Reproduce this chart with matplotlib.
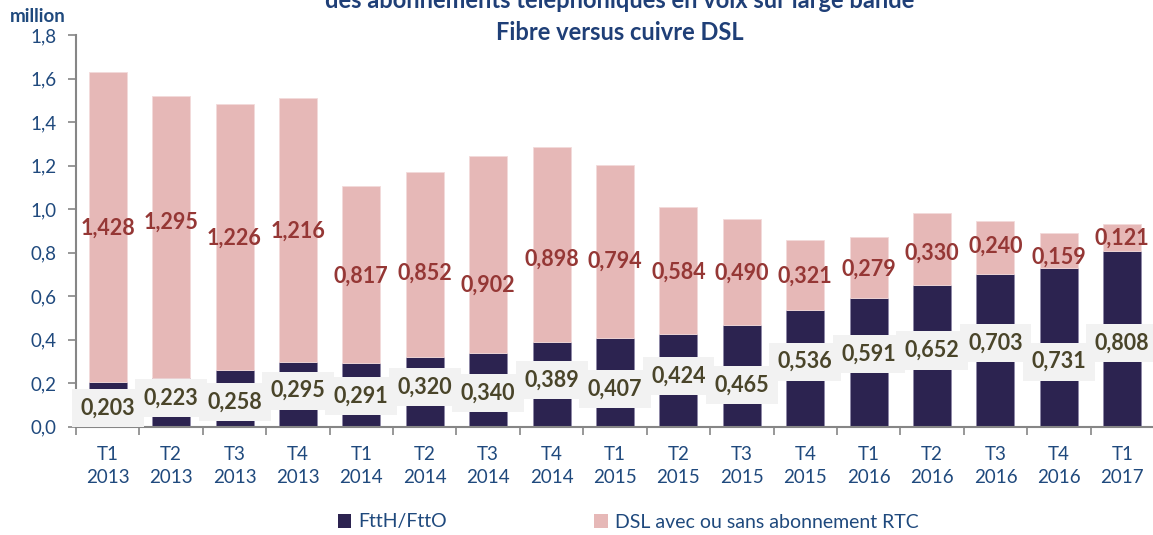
import matplotlib
matplotlib.use("Agg")
import matplotlib.pyplot as plt
from matplotlib.patches import Patch
import numpy as np

# ---- data ----
quarters = ["T1", "T2", "T3", "T4", "T1", "T2", "T3", "T4", "T1", "T2", "T3", "T4", "T1", "T2", "T3", "T4", "T1"]
years = ["2013"] * 4 + ["2014"] * 4 + ["2015"] * 4 + ["2016"] * 4 + ["2017"]
ftth = [0.203, 0.223, 0.258, 0.295, 0.291, 0.320, 0.340, 0.389, 0.407, 0.424, 0.465, 0.536, 0.591, 0.652, 0.703, 0.731, 0.808]
dsl = [1.428, 1.295, 1.226, 1.216, 0.817, 0.852, 0.902, 0.898, 0.794, 0.584, 0.490, 0.321, 0.279, 0.330, 0.240, 0.159, 0.121]
yticks = [0.0, 0.2, 0.4, 0.6, 0.8, 1.0, 1.2, 1.4, 1.6, 1.8]
series_names = ["FttH/FttO", "DSL avec ou sans abonnement RTC"]
title_lines = ["des abonnements téléphoniques en voix sur large bande", "Fibre versus cuivre DSL"]

# ---- layout (label placement as in the original, manually placed) ----
ftth_label_y = [0.084, 0.132, 0.114, 0.165, 0.140, 0.180, 0.155, 0.214, 0.171, 0.232, 0.191, 0.298, 0.333, 0.349, 0.383, 0.298, 0.385]
dsl_label_y = [0.911, 0.937, 0.865, 0.896, 0.692, 0.704, 0.651, 0.770, 0.761, 0.709, 0.704, 0.689, 0.724, 0.796, 0.827, 0.778, 0.865]

FONT = "Lato"
NAVY = "#2C2350"
PINK = "#E6B8B7"
BLUE_TXT = "#1F497D"
RED_TXT = "#953735"
OLIVE_TXT = "#4A452A"
AXIS_GRAY = "#868686"

plt.rcParams["font.family"] = [FONT, "DejaVu Sans"]

W, H = 1153, 535
fig = plt.figure(figsize=(W / 100, H / 100), dpi=100)
ax = fig.add_axes([76 / W, (H - 426.5) / H, (1154 - 76) / W, (426.5 - 35) / H])

x = np.arange(len(ftth))
ax.bar(x, ftth, width=0.6, color=NAVY, edgecolor="#8E88A8", linewidth=0.6, zorder=2)
ax.bar(x, dsl, width=0.6, bottom=ftth, color=PINK, edgecolor="#F3DADA", linewidth=0.6, zorder=2)

fmt = lambda v: f"{v:.3f}".replace(".", ",")
for i in range(len(x)):
    ax.text(x[i], ftth_label_y[i], fmt(ftth[i]), ha="center", va="center",
            fontsize=15.5, fontweight="bold", color=OLIVE_TXT, zorder=4,
            bbox=dict(boxstyle="square,pad=0.4", facecolor="#F2F2F2", edgecolor="none"))
    ax.text(x[i], dsl_label_y[i], fmt(dsl[i]), ha="center", va="center",
            fontsize=15.5, fontweight="bold", color=RED_TXT, zorder=4)

ax.set_xlim(-0.5, len(x) - 0.5)
ax.set_ylim(0, 1.8)
ax.set_yticks(yticks)
ax.set_yticklabels([f"{t:.1f}".replace(".", ",") for t in yticks], fontsize=13.5, color=BLUE_TXT)

# category labels centered, ticks at boundaries
ax.set_xticks(x)
ax.set_xticklabels([f"{q}\n{y}" for q, y in zip(quarters, years)], fontsize=13.5,
                   color=BLUE_TXT, linespacing=1.45)
ax.tick_params(axis="x", which="major", length=0, pad=14)
ax.set_xticks(np.arange(-0.5, len(x), 1.0), minor=True)
ax.tick_params(axis="x", which="minor", length=6, width=1.2, color=AXIS_GRAY, direction="out")
ax.tick_params(axis="y", length=6, width=1.2, color=AXIS_GRAY, direction="out", pad=8)

for s in ["top", "right"]:
    ax.spines[s].set_visible(False)
for s in ["left", "bottom"]:
    ax.spines[s].set_color(AXIS_GRAY)
    ax.spines[s].set_linewidth(1.5)

# titles (first line is cut at the top edge, as in the original)
fig.text(620 / W, 1 - 1 / H, title_lines[0], ha="center", va="center", fontsize=17,
         fontweight="bold", color="#1F3F77")
fig.text(620 / W, 1 - 33 / H, title_lines[1], ha="center", va="center", fontsize=17,
         fontweight="bold", color="#1F3F77")
fig.text(10 / W, 1 - 16 / H, "million", ha="left", va="center", fontsize=13.5,
         fontweight="bold", color=BLUE_TXT)

handles = [Patch(facecolor=NAVY, edgecolor="none"), Patch(facecolor=PINK, edgecolor="none")]
fig.legend(handles, series_names, loc="center", bbox_to_anchor=(628 / W, 1 - 522 / H),
           ncol=2, frameon=False, fontsize=14, handlelength=0.7, handleheight=0.7,
           handletextpad=0.35, columnspacing=7.6, labelcolor=BLUE_TXT)

fig.savefig("out.png", dpi=100)
